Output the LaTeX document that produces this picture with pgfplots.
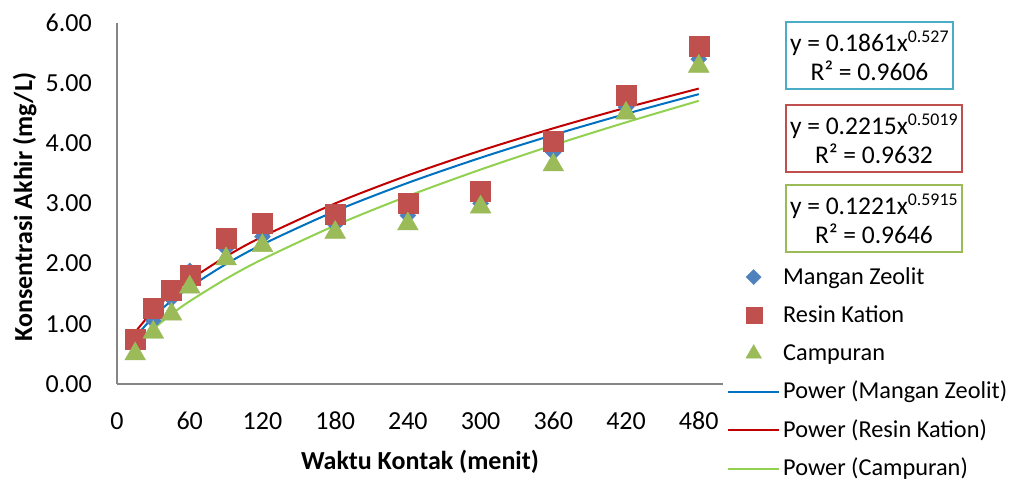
\documentclass[border=0pt]{standalone}
\usepackage{pgfplots}
\pgfplotsset{compat=1.18}
\usepackage{fontspec}
\setmainfont{Carlito}
\definecolor{axisgray}{RGB}{134,134,134}
\definecolor{mzblue}{RGB}{79,129,189}
\definecolor{rkred}{RGB}{192,80,77}
\definecolor{cpgreen}{RGB}{155,187,89}
\definecolor{lblue}{RGB}{0,112,192}
\definecolor{lred}{RGB}{192,0,0}
\definecolor{lgreen}{RGB}{146,208,80}
\definecolor{boxblue}{RGB}{75,172,198}
\newcommand{\tickfont}{\fontsize{26}{30}\selectfont}
\pgfplotsset{
  marklegend/.style={legend image code/.code={\path (0pt,0pt) (51pt,0pt); \draw[##1, mark size=#1] plot coordinates {(25.5pt,7pt)};}},
  linelegend/.style={legend image code/.code={\draw[##1] (0pt,7pt) -- (51pt,7pt);}},
}
\begin{document}
\begin{tikzpicture}
\useasboundingbox (0,0) rectangle (1011pt,481pt);
\begin{axis}[
  at={(117pt,97pt)}, anchor=south west,
  scale only axis, width=606pt, height=361pt,
  xmin=0, xmax=500, ymin=0, ymax=6,
  axis x line*=bottom, axis y line*=left,
  axis line style={draw=axisgray, line width=1.5pt, -},
  xtick={0,60,...,480}, ytick={0,1,...,6},
  major tick length=0pt,
  /pgf/number format/assume math mode=true,
  xticklabel={\tickfont\pgfmathprintnumber{\tick}},
  yticklabel={\tickfont\pgfmathprintnumber[fixed,fixed zerofill,precision=2]{\tick}},
  tick label style={font=\tickfont},
  label style={font=\bfseries\fontsize{26}{30}\selectfont},
  xticklabel style={anchor=north, inner sep=0pt},
  xticklabel shift=28pt,
  yticklabel style={anchor=east, inner sep=0pt},
  yticklabel shift=25pt,
  xlabel={Waktu Kontak (menit)},
  ylabel={Konsentrasi Akhir (mg/L)},
  xlabel style={at={(axis description cs:0.5,0)}, anchor=base, inner sep=0pt, yshift=-86pt},
  ylabel style={at={(axis description cs:-0.140,0.49)}, rotate=0, anchor=base, inner sep=0pt},
  clip=false,
  legend cell align=left,
  legend style={at={(1.0066,0.326)}, anchor=north west, draw=none, fill=none,
    inner sep=0pt, row sep=14.8pt, column sep=3pt,
    font=\fontsize{24.3}{28}\selectfont,
    cells={anchor=base west},
    nodes={inner sep=0pt, text height=17.5pt, text depth=6pt}},
]
\addplot[only marks, mark=diamond*, mark size=8pt, mark options={xscale=1.333, fill=mzblue, draw=mzblue}, marklegend=7.5pt]
  coordinates {(15,0.62)(30,1.05)(45,1.42)(60,1.88)(90,2.25)(120,2.45)(180,2.65)(240,2.80)(300,3.00)(360,3.85)(420,4.60)(480,5.40)};
\addlegendentry{Mangan Zeolit}
\addplot[only marks, mark=square*, mark size=10pt, mark options={fill=rkred, draw=rkred}, marklegend=8pt]
  coordinates {(15,0.75)(30,1.26)(45,1.56)(60,1.81)(90,2.42)(120,2.68)(180,2.82)(240,3.00)(300,3.21)(360,4.03)(420,4.80)(480,5.61)};
\addlegendentry{Resin Kation}
\addplot[only marks, mark=triangle*, mark size=12pt, mark options={fill=cpgreen, draw=cpgreen}, marklegend=9pt]
  coordinates {(15,0.50)(30,0.86)(45,1.16)(60,1.61)(90,2.08)(120,2.30)(180,2.52)(240,2.66)(300,2.94)(360,3.64)(420,4.50)(480,5.28)};
\addlegendentry{Campuran}
\addplot[lblue, line width=2pt, smooth, no marks, linelegend]
  coordinates {(15,0.7755)(30,1.1174)(45,1.3836)(60,1.6100)(90,1.9936)(120,2.3200)(180,2.8727)(240,3.3428)(300,3.7599)(360,4.1393)(420,4.4896)(480,4.8169)};
\addlegendentry{Power (Mangan Zeolit)}
\addplot[lred, line width=2pt, smooth, no marks, linelegend]
  coordinates {(15,0.8623)(30,1.2211)(45,1.4967)(60,1.7291)(90,2.1194)(120,2.4486)(180,3.0011)(240,3.4675)(300,3.8782)(360,4.2500)(420,4.5918)(480,4.9101)};
\addlegendentry{Power (Resin Kation)}
\addplot[lgreen, line width=2pt, smooth, no marks, linelegend]
  coordinates {(15,0.6059)(30,0.9129)(45,1.1603)(60,1.3756)(90,1.7484)(120,2.0727)(180,2.6346)(240,3.1233)(300,3.5640)(360,3.9698)(420,4.3488)(480,4.7065)};
\addlegendentry{Power (Campuran)}
\end{axis}
\begin{scope}[every node/.style={anchor=west, align=center, line width=2pt, inner xsep=4pt, inner ysep=0pt, minimum height=67pt, font=\fontsize{25.5}{29}\selectfont}]
\node[draw=boxblue] at (785pt,425.5pt) {y = 0.1861x\textsuperscript{0.527}\\R² = 0.9606};
\node[draw=rkred] at (785pt,342pt) {y = 0.2215x\textsuperscript{0.5019}\\R² = 0.9632};
\node[draw=cpgreen] at (785pt,262.5pt) {y = 0.1221x\textsuperscript{0.5915}\\R² = 0.9646};
\end{scope}
\end{tikzpicture}
\end{document}
